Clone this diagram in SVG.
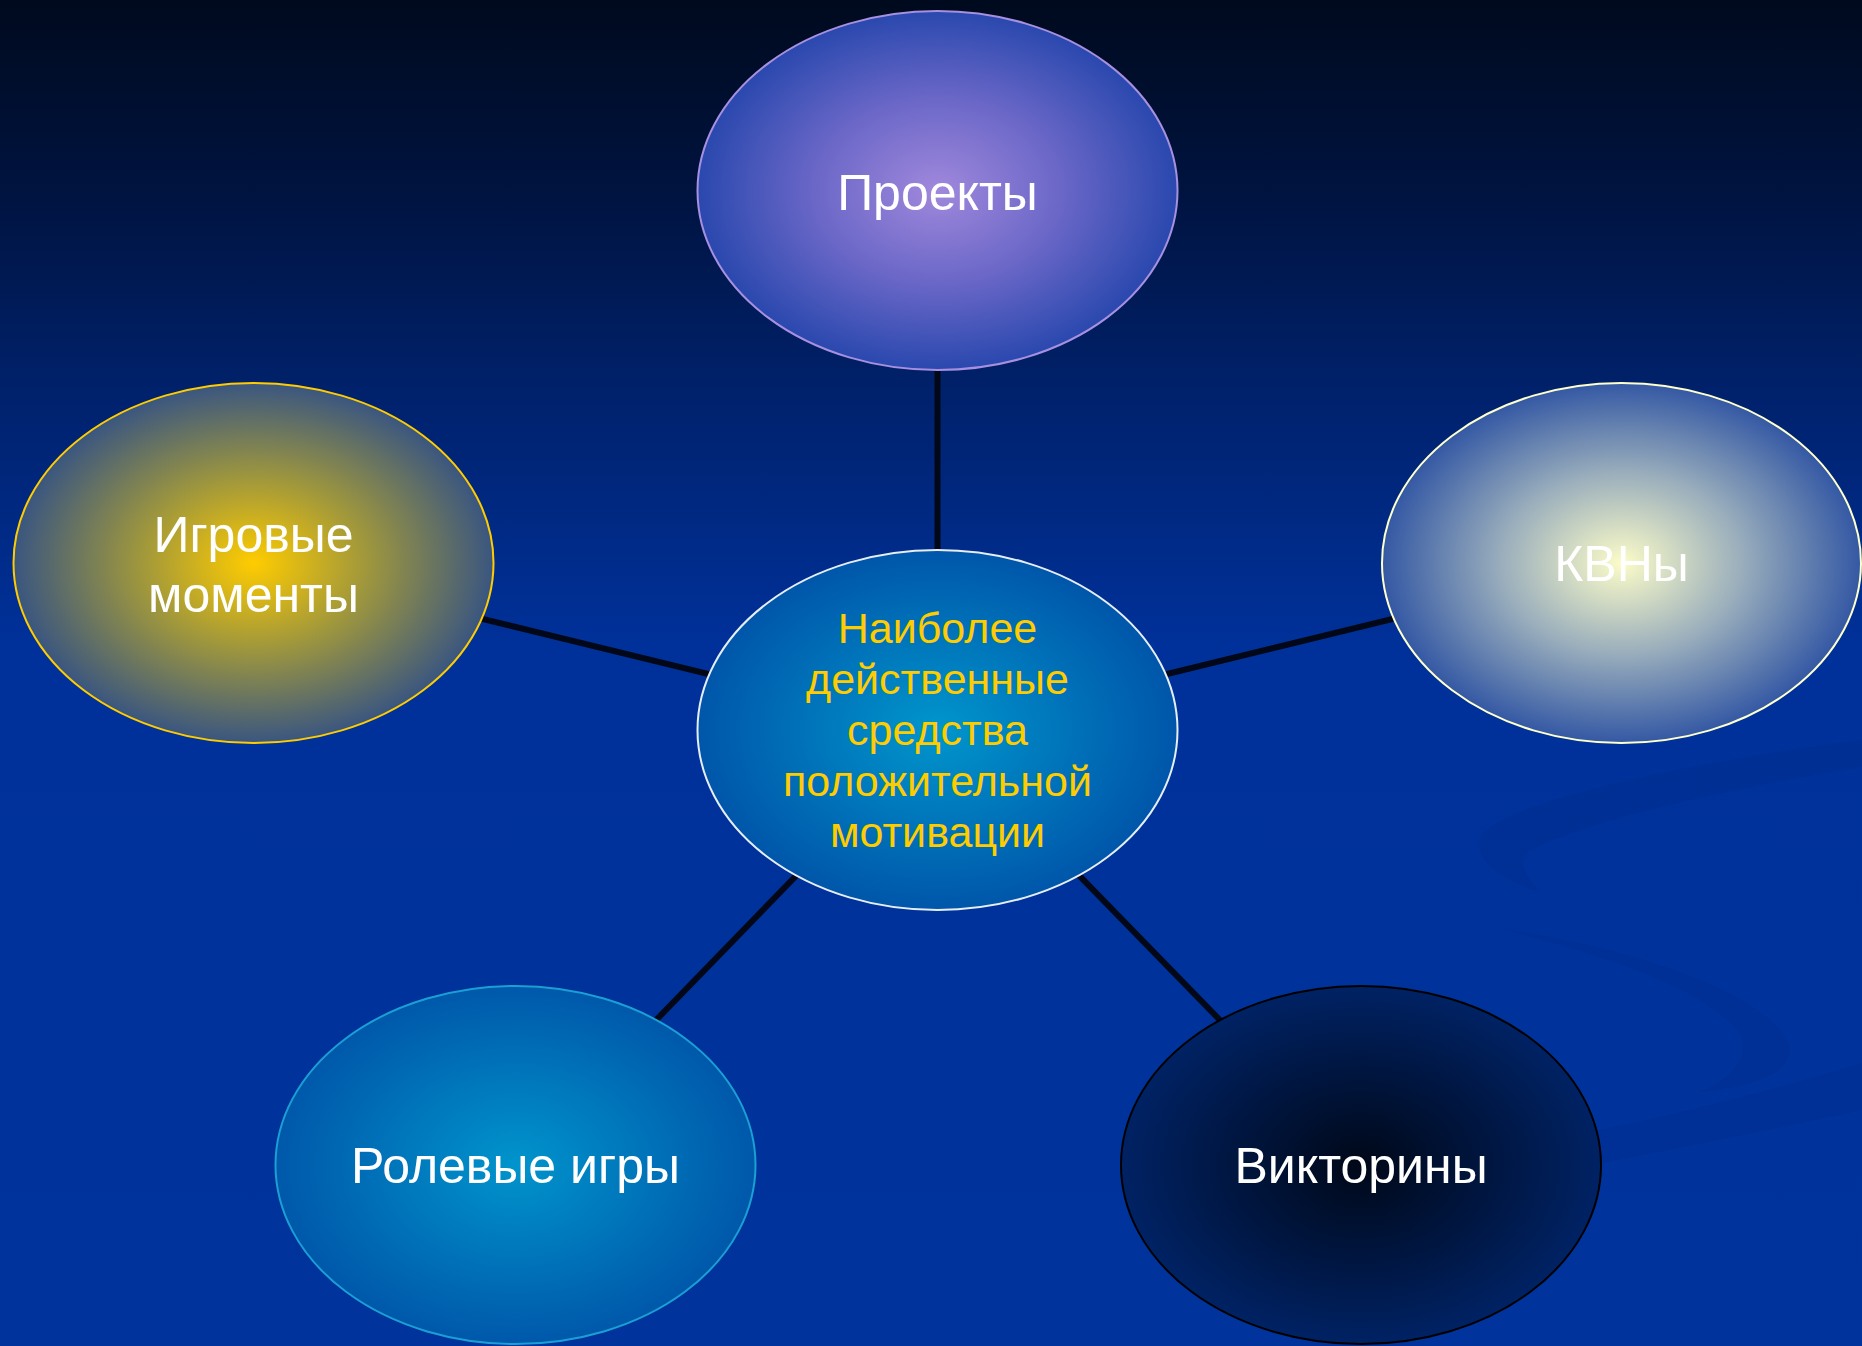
<svg xmlns="http://www.w3.org/2000/svg" width="1862" height="1346" viewBox="0 0 1862 1346">
  <defs>
    <linearGradient id="bg" x1="0" y1="0" x2="0" y2="1">
      <stop offset="0" stop-color="#000a1e"/>
      <stop offset="0.15" stop-color="#001442"/>
      <stop offset="0.3" stop-color="#00226e"/>
      <stop offset="0.48" stop-color="#00319a"/>
      <stop offset="1" stop-color="#00339c"/>
    </linearGradient>
    <radialGradient id="gTop" cx="0.5" cy="0.5" r="0.5">
      <stop offset="0" stop-color="#a088dc"/>
      <stop offset="0.5" stop-color="#6c68c8"/>
      <stop offset="1" stop-color="#2a48ae"/>
    </radialGradient>
    <radialGradient id="gCenter" cx="0.5" cy="0.5" r="0.5">
      <stop offset="0" stop-color="#0096cc"/>
      <stop offset="1" stop-color="#0056aa"/>
    </radialGradient>
    <radialGradient id="gLeft" cx="0.5" cy="0.5" r="0.5">
      <stop offset="0" stop-color="#ffcc00"/>
      <stop offset="0.5" stop-color="#9a9440"/>
      <stop offset="1" stop-color="#3a5680"/>
    </radialGradient>
    <radialGradient id="gRight" cx="0.5" cy="0.5" r="0.5">
      <stop offset="0" stop-color="#fcfcc8"/>
      <stop offset="0.5" stop-color="#9aaebc"/>
      <stop offset="1" stop-color="#3458a4"/>
    </radialGradient>
    <radialGradient id="gBL" cx="0.5" cy="0.5" r="0.5">
      <stop offset="0" stop-color="#0094cc"/>
      <stop offset="1" stop-color="#0058aa"/>
    </radialGradient>
    <radialGradient id="gBR" cx="0.5" cy="0.5" r="0.5">
      <stop offset="0" stop-color="#000818"/>
      <stop offset="1" stop-color="#002264"/>
    </radialGradient>
  </defs>
  <style>
    .node-label { font-family: "Liberation Sans", Arial, sans-serif; text-anchor: middle; fill: #ffffff; font-size: 50px; }
    .center-label { font-family: "Liberation Sans", Arial, sans-serif; text-anchor: middle; fill: #ffcc00; font-size: 43px; }
    .conn { stroke: #030818; stroke-width: 6; fill: none; }
    .swirl { fill: #002a88; opacity: 0.3; }
  </style>

  <rect x="0" y="0" width="1862" height="1346" fill="url(#bg)"/>

  <g id="background-swirl">
    <path class="swirl" d="M1862 740 C1700 760 1510 800 1482 835 C1470 860 1505 880 1540 892 C1525 875 1515 860 1530 850 C1600 815 1750 785 1862 767 Z"/>
    <path class="swirl" d="M1507 930 C1620 945 1760 990 1787 1040 C1800 1070 1760 1085 1700 1092 C1735 1078 1750 1055 1740 1033 C1700 985 1600 955 1507 930 Z"/>
    <path class="swirl" d="M1590 1132 C1700 1110 1790 1085 1862 1063 L1862 1110 C1790 1125 1700 1145 1590 1165 Z"/>
  </g>

  <g id="connectors">
    <line class="conn" x1="937.5" y1="730" x2="937.5" y2="190"/>
    <line class="conn" x1="937.5" y1="730" x2="253.5" y2="563"/>
    <line class="conn" x1="937.5" y1="730" x2="1621.5" y2="563"/>
    <line class="conn" x1="937.5" y1="730" x2="515.5" y2="1165"/>
    <line class="conn" x1="937.5" y1="730" x2="1361" y2="1165"/>
  </g>

  <g id="node-projects">
    <ellipse cx="937.5" cy="190.5" rx="240" ry="179.5" fill="url(#gTop)" stroke="#a890e0" stroke-width="2"/>
    <text class="node-label" x="937.5" y="210">Проекты</text>
  </g>

  <g id="node-games">
    <ellipse cx="253.5" cy="563" rx="240" ry="180" fill="url(#gLeft)" stroke="#ffcc00" stroke-width="2"/>
    <text class="node-label" x="253.5" y="552">Игровые</text>
    <text class="node-label" x="253.5" y="612">моменты</text>
  </g>

  <g id="node-kvn">
    <ellipse cx="1621.5" cy="563" rx="239.5" ry="180" fill="url(#gRight)" stroke="#ffffcc" stroke-width="2"/>
    <text class="node-label" x="1621.5" y="581">КВНы</text>
  </g>

  <g id="node-center">
    <ellipse cx="937.5" cy="730" rx="240" ry="180" fill="url(#gCenter)" stroke="#e6eef6" stroke-width="2"/>
    <text class="center-label" x="937.5" y="643">Наиболее</text>
    <text class="center-label" x="937.5" y="694">действенные</text>
    <text class="center-label" x="937.5" y="745">средства</text>
    <text class="center-label" x="937.5" y="796">положительной</text>
    <text class="center-label" x="937.5" y="847">мотивации</text>
  </g>

  <g id="node-roleplay">
    <ellipse cx="515.5" cy="1165" rx="240" ry="179" fill="url(#gBL)" stroke="#1aa0d4" stroke-width="2"/>
    <text class="node-label" x="515.5" y="1183">Ролевые игры</text>
  </g>

  <g id="node-quiz">
    <ellipse cx="1361" cy="1165" rx="240" ry="179" fill="url(#gBR)" stroke="#000000" stroke-width="2"/>
    <text class="node-label" x="1361" y="1183">Викторины</text>
  </g>
</svg>
